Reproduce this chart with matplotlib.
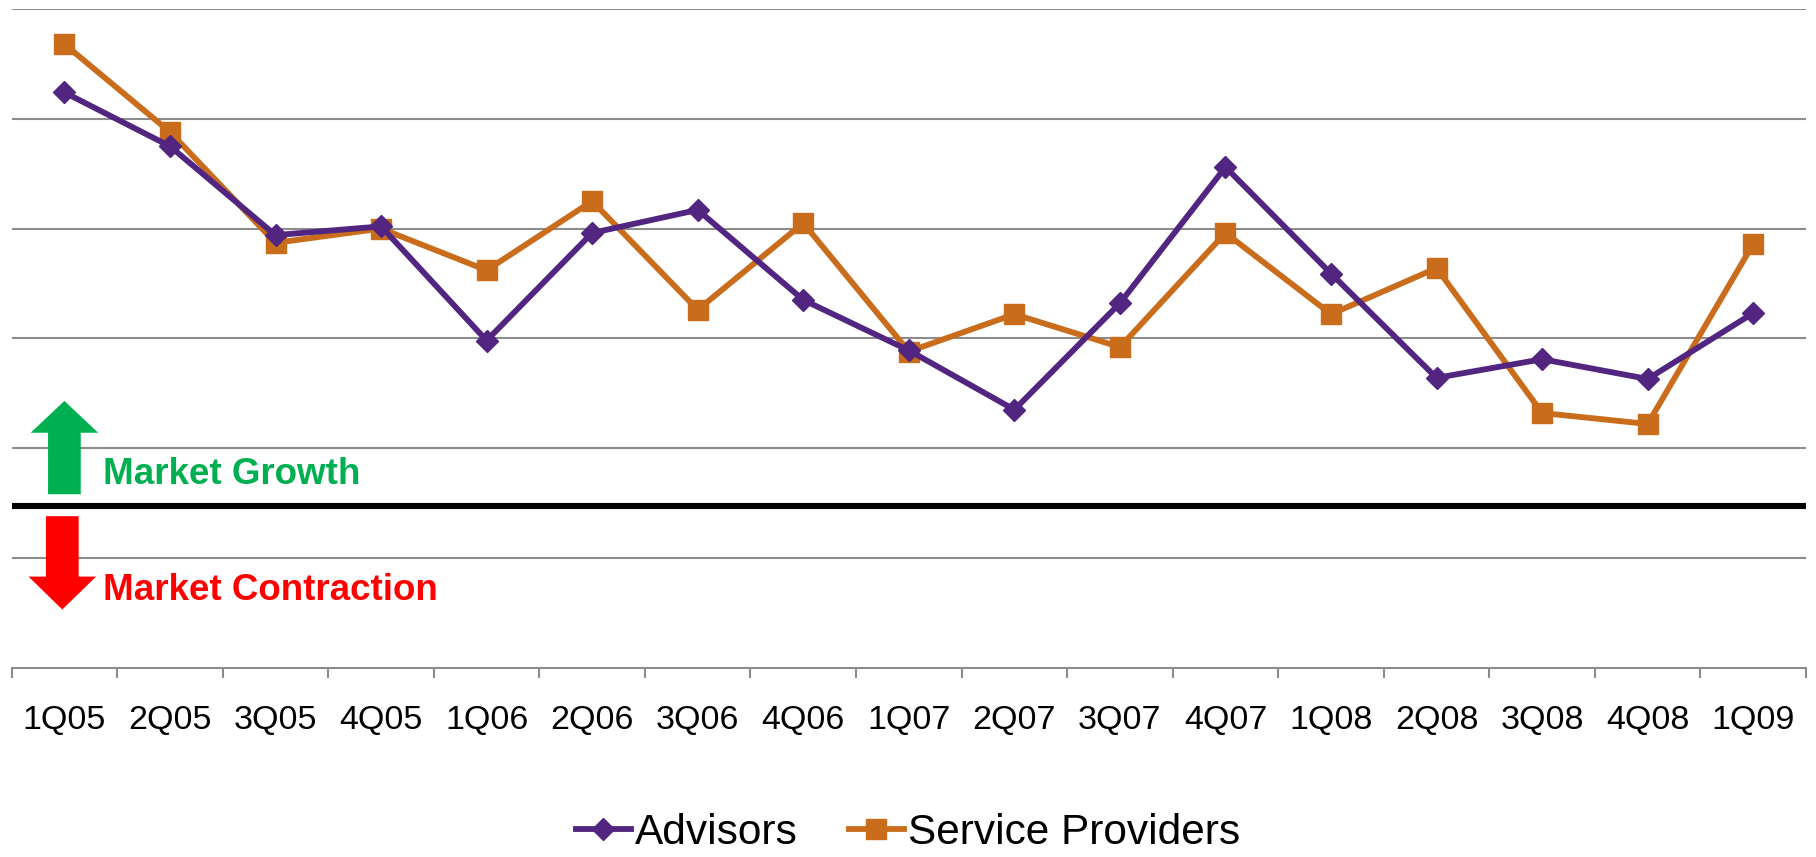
import numpy as np
import matplotlib.pyplot as plt

plt.rcParams['font.family'] = ['Liberation Sans', 'DejaVu Sans']

quarters = ['1Q05', '2Q05', '3Q05', '4Q05', '1Q06', '2Q06', '3Q06', '4Q06', '1Q07',
            '2Q07', '3Q07', '4Q07', '1Q08', '2Q08', '3Q08', '4Q08', '1Q09']
advisors = [87.4, 82.5, 74.4, 75.2, 64.8, 74.6, 76.7, 68.5, 63.9,
            58.5, 68.2, 80.6, 70.9, 61.4, 63.1, 61.3, 67.3]
service_providers = [91.8, 83.8, 73.7, 75.0, 71.2, 77.5, 67.6, 75.5, 63.8,
                     67.2, 64.2, 74.6, 67.2, 71.4, 58.2, 57.2, 73.6]
neutral = 49.7

purple = '#512580'
orange = '#C96C1B'
green = '#00B050'
red = '#FF0000'
grid_gray = '#8C8C8C'

fig = plt.figure(figsize=(18.16, 8.57), dpi=100)
ax = fig.add_axes([0.0064, 0.2209, 0.9881, 0.7686])

x = np.arange(len(quarters))

# horizontal gridlines
for gy in np.arange(45, 96, 10):
    ax.axhline(gy, color=grid_gray, lw=1.5, zorder=1)

# growth / contraction divider
ax.axhline(neutral, color='black', lw=4.4, zorder=2)

ax.plot(x, advisors, color=purple, lw=4.2, marker='D', ms=11.5,
        label='Advisors', zorder=4)
ax.plot(x, service_providers, color=orange, lw=4.2, marker='s', ms=15,
        label='Service Providers', zorder=3)


def block_arrow(xc, y_tail, y_head_base, y_tip, shaft_w, head_w, color):
    xs = [xc - shaft_w / 2, xc - shaft_w / 2, xc - head_w / 2, xc,
          xc + head_w / 2, xc + shaft_w / 2, xc + shaft_w / 2]
    ys = [y_tail, y_head_base, y_head_base, y_tip, y_head_base, y_head_base, y_tail]
    ax.fill(xs, ys, color=color, lw=0, zorder=5)


block_arrow(0.0, 50.8, 56.4, 59.3, 0.31, 0.64, green)
block_arrow(-0.02, 48.8, 43.3, 40.3, 0.31, 0.64, red)

ax.text(0.37, 52.6, 'Market Growth', color=green, fontsize=26.5, fontweight='bold',
        va='center', ha='left', zorder=5)
ax.text(0.37, 42.0, 'Market Contraction', color=red, fontsize=26.5, fontweight='bold',
        va='center', ha='left', zorder=5)

ax.set_xlim(-0.5, len(quarters) - 0.5)
ax.set_ylim(35, 95)
ax.set_yticks([])

ax.set_xticks(x)
ax.set_xticklabels(quarters, fontsize=24.5)
ax.set_xticks(np.arange(-0.5, len(quarters)), minor=True)
ax.tick_params(axis='x', which='major', length=0, pad=27)
ax.tick_params(axis='x', which='minor', length=7, width=1.5, color=grid_gray, direction='out')

for side in ['left', 'right', 'top']:
    ax.spines[side].set_visible(False)
ax.spines['bottom'].set_color(grid_gray)
ax.spines['bottom'].set_linewidth(1.5)

fig.legend(loc='center', bbox_to_anchor=(0.5, 0.028), ncol=2, frameon=False,
           fontsize=30.5, handlelength=1.3, handletextpad=0.1, columnspacing=1.2,
           borderaxespad=0)

fig.savefig('out.png', dpi=100)
